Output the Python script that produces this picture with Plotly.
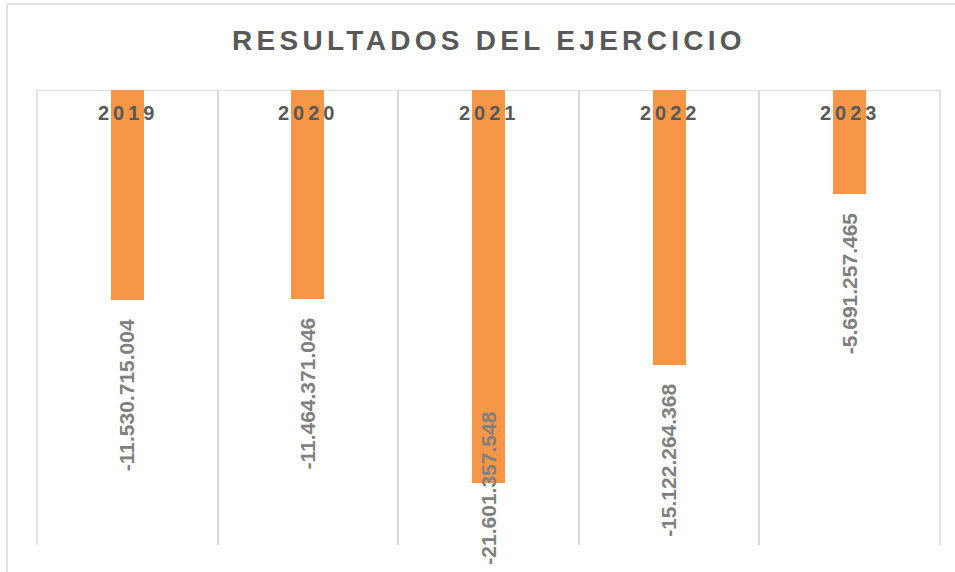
import plotly.graph_objects as go

categories = ["2019", "2020", "2021", "2022", "2023"]
values = [-11530715004, -11464371046, -21601357548, -15122264368, -5691257465]
title_text = "RESULTADOS DEL EJERCICIO"

BAR = "#F79646"
GRID = "#d9d9d9"
FONT = "Liberation Sans, Arial, sans-serif"


def fmt(v):
    return f"{v:,}".replace(",", ".")


fig = go.Figure()
fig.add_trace(go.Bar(
    x=categories, y=values, marker=dict(color=BAR, line=dict(width=0)),
    width=0.183, hoverinfo="skip", showlegend=False,
))

ymin = -25e9
annotations = []
for i, (c, v) in enumerate(zip(categories, values)):
    # category label near the top
    annotations.append(dict(
        x=i, y=0, xref="x", yref="y", yanchor="middle", yshift=-23, xshift=1,
        text=f'<span style="letter-spacing:4px">{c}</span>', showarrow=False,
        font=dict(family=FONT, size=20, color="#595959", weight="bold"),
    ))
    deep = v < ymin * 0.8
    annotations.append(dict(
        x=i, y=v, xref="x", yref="y", textangle=-90,
        yanchor="middle" if deep else "top", yshift=-5 if deep else -17,
        text=fmt(v), showarrow=False,
        font=dict(family=FONT, size=21, color="#808080", weight="bold"),
    ))

annotations.append(dict(
    x=0.5, y=(545 - 41) / 455, xref="paper", yref="paper",
    xanchor="center", yanchor="middle", showarrow=False,
    text=f'<span style="letter-spacing:4.3px">{title_text}</span>',
    font=dict(family=FONT, size=28, color="#595959", weight="bold"),
))

edge = dict(color=GRID, width=1.5)
shapes = [
    # outer chart border (left and top)
    dict(type="line", xref="paper", yref="paper", x0=(7 - 37) / 903, x1=(7 - 37) / 903,
         y0=(545 - 4) / 455, y1=-0.2, line=edge, layer="below"),
    dict(type="line", xref="paper", yref="paper", x0=(7 - 37) / 903, x1=1.1,
         y0=(545 - 4) / 455, y1=(545 - 4) / 455, line=edge, layer="below"),
    # zero line at top of plot
    dict(type="line", xref="paper", yref="y", x0=0, x1=1, y0=0, y1=0,
         line=edge, layer="below"),
    # left / right plot edges
    dict(type="line", xref="paper", yref="paper", x0=0, x1=0, y0=0, y1=1,
         line=edge, layer="below"),
    dict(type="line", xref="paper", yref="paper", x0=1, x1=1, y0=0, y1=1,
         line=edge, layer="below"),
]

fig.update_layout(
    width=955, height=572,
    margin=dict(l=37, r=15, t=90, b=27),
    paper_bgcolor="white", plot_bgcolor="white",
    xaxis=dict(type="category", tickson="boundaries", showgrid=True, gridcolor=GRID,
               gridwidth=1.5, showticklabels=False, ticks="", showline=False, zeroline=False,
               range=[-0.5, len(categories) - 0.5]),
    yaxis=dict(range=[ymin, 0], showgrid=False, showticklabels=False, zeroline=False,
               showline=False, ticks=""),
    annotations=annotations, shapes=shapes, bargap=0,
)

fig.write_html("out.html", config={"displayModeBar": False},
               post_script="document.body.style.margin='0';")
